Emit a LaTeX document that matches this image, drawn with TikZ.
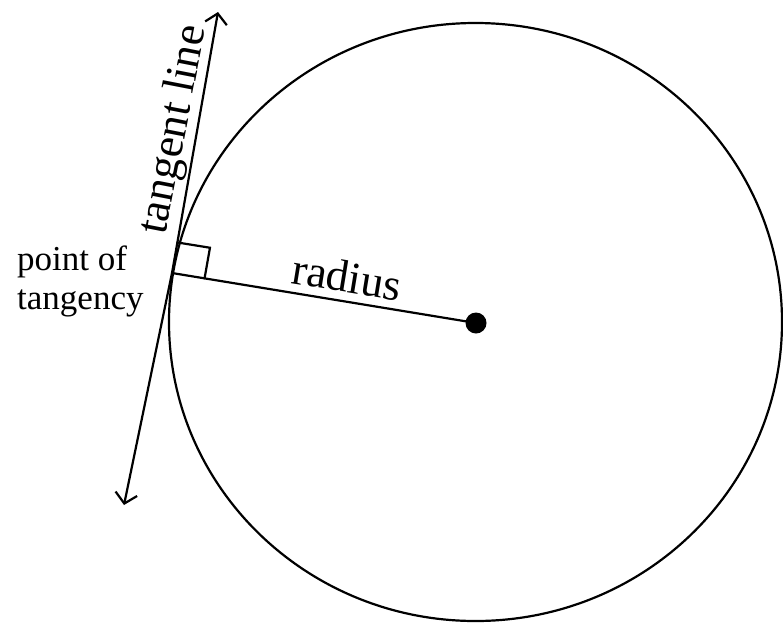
\documentclass[tikz,border=0pt]{standalone}
\usepackage{fontspec}
\setmainfont{Liberation Serif}
\usepackage{tikz}
\usetikzlibrary{arrows.meta,calc}

\begin{document}
\begin{tikzpicture}[x=1pt,y=-1pt,
  ln/.style={line width=2.2pt,line cap=round},
  ar/.style={ln,{Straight Barb[length=10pt,width=22pt,line width=2.2pt]}-{Straight Barb[length=10pt,width=22pt,line width=2.2pt]}},
  lb/.style={font=\fontsize{45}{50}\selectfont,inner sep=0pt},
  sm/.style={font=\fontsize{35}{39}\selectfont,align=left,inner sep=0pt}]
\useasboundingbox (0,0) rectangle (783,624);
% circle, centre and point of tangency
\coordinate (O) at (475.5,322);
\coordinate (P) at (172,273);
\coordinate (tipA) at (218,12);
\coordinate (tipB) at (124,505);
\draw[ln] (O) ellipse [x radius=306.5,y radius=299];
\fill (476,323) circle [radius=10.5];
% tangent line and radius
\draw[ar] (tipA) -- (P) -- (tipB);
\draw[ln] (P) -- (476,323);
% right angle mark
\coordinate (ra) at ($(P)!33pt!(O)$);
\coordinate (rb) at ($(P)!31pt!(tipA)$);
\draw[ln] (ra) -- ($(ra)+(rb)-(P)$) -- (rb);
% labels
\node[lb,rotate=-9.3] (rad) at (347,277) {radius};
\node[lb,rotate=79] (tan) at (175,130) {tangent line};
\node[sm,anchor=west] (pt) at (17,281) {point of\\tangency};
\end{tikzpicture}
\end{document}
